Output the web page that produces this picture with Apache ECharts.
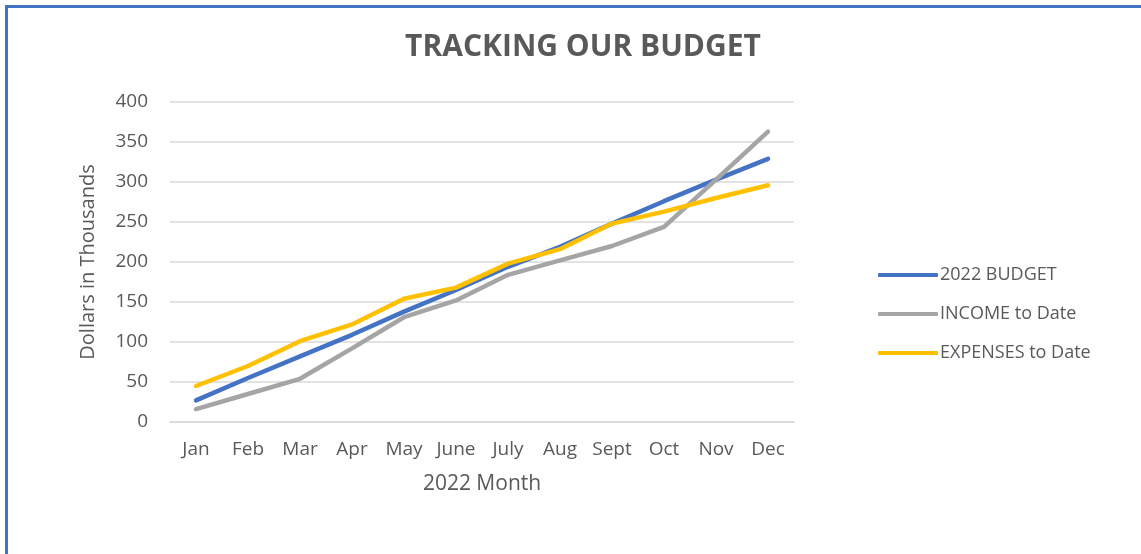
<!DOCTYPE html>
<html>
<head>
<meta charset="utf-8">
<script src="https://cdn.jsdelivr.net/npm/echarts@6/dist/echarts.min.js"></script>
<style>
  html, body { margin: 0; padding: 0; background: #fff; }
  #frame { position: absolute; left: 5px; top: 5px; width: 1136px; height: 549px;
    border-top: 3px solid #4472C4; border-left: 3px solid #4472C4; }
  #chart { position: absolute; left: 0; top: 0; width: 1141px; height: 554px; }
</style>
</head>
<body>
<div id="frame"></div>
<div id="chart"></div>
<script>
  const months = ['Jan', 'Feb', 'Mar', 'Apr', 'May', 'June', 'July', 'Aug', 'Sept', 'Oct', 'Nov', 'Dec']
  const budget = [27, 55, 82, 109, 138, 165, 194, 219, 248, 276, 303, 329]
  const income = [16, 35, 54, 92, 131, 152, 184, 202, 220, 244, 303, 363]
  const expenses = [45, 70, 101, 122, 154, 168, 198, 216, 248, 263, 280, 296]

  const font = 'Open Sans'
  const textColor = '#595959'

  const chart = echarts.init(document.getElementById('chart'))
  chart.setOption({
    animation: false,
    title: {
      text: 'TRACKING OUR BUDGET',
      left: 578, top: 27, textAlign: 'center',
      textStyle: { fontFamily: font, fontWeight: 'bold', fontSize: 30, color: textColor }
    },
    legend: {
      orient: 'vertical',
      left: 873, top: 261,
      itemWidth: 60, itemHeight: 4, itemGap: 21,
      icon: 'roundRect',
      textStyle: { fontFamily: font, fontSize: 18, color: textColor, padding: [0, 0, 0, -3] },
      data: ['2022 BUDGET', 'INCOME to Date', 'EXPENSES to Date']
    },
    grid: { left: 170, right: 347, top: 102, bottom: 132 },
    xAxis: {
      type: 'category',
      data: months,
      name: '2022 Month',
      nameLocation: 'middle',
      nameGap: 52,
      nameTextStyle: { fontFamily: font, fontSize: 21, color: textColor },
      axisLine: { lineStyle: { color: '#d9d9d9', width: 1.5 } },
      axisTick: { show: false },
      axisLabel: { fontFamily: font, fontSize: 19, color: textColor, margin: 18 }
    },
    yAxis: {
      type: 'value',
      min: 0, max: 400, interval: 50,
      name: 'Dollars in Thousands',
      nameLocation: 'middle',
      nameGap: 72,
      nameTextStyle: { fontFamily: font, fontSize: 20, color: textColor },
      axisLine: { show: false },
      axisTick: { show: false },
      splitLine: { lineStyle: { color: '#d9d9d9', width: 1.5 } },
      axisLabel: { fontFamily: font, fontSize: 19, color: textColor, margin: 22 }
    },
    series: [
      { name: '2022 BUDGET', type: 'line', data: budget, showSymbol: false,
        lineStyle: { color: '#4472C4', width: 4.5, cap: 'round' }, itemStyle: { color: '#4472C4' } },
      { name: 'INCOME to Date', type: 'line', data: income, showSymbol: false,
        lineStyle: { color: '#A5A5A5', width: 4.5, cap: 'round' }, itemStyle: { color: '#A5A5A5' } },
      { name: 'EXPENSES to Date', type: 'line', data: expenses, showSymbol: false,
        lineStyle: { color: '#FFC000', width: 4.5, cap: 'round' }, itemStyle: { color: '#FFC000' } }
    ]
  })
</script>
</body>
</html>
